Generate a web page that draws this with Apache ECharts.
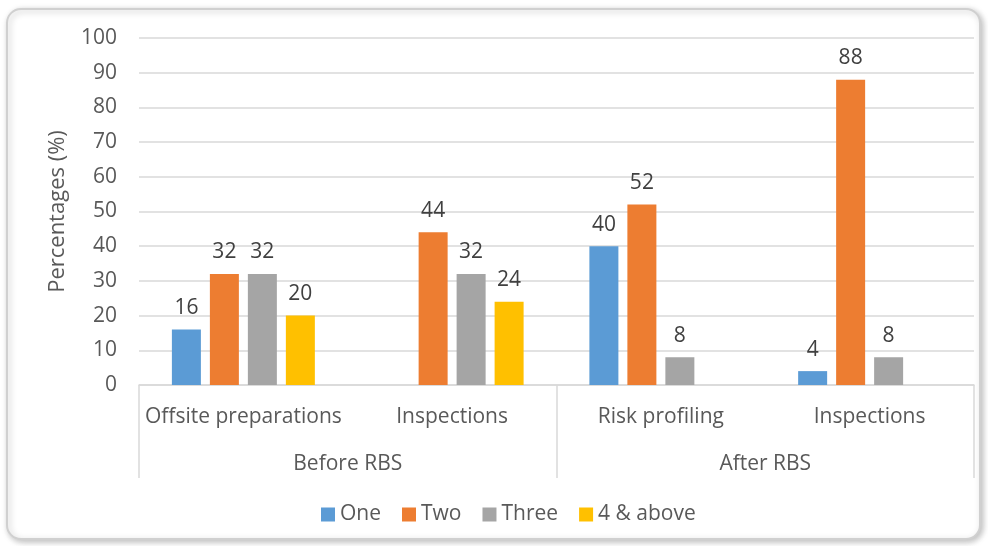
<!DOCTYPE html>
<html>
<head>
<meta charset="utf-8">
<script src="https://cdn.jsdelivr.net/npm/echarts@6/dist/echarts.min.js"></script>
<style>
  html, body { margin: 0; padding: 0; background: #ffffff; }
  #chart { width: 988px; height: 546px; }
</style>
</head>
<body>
<div id="chart"></div>
<script>
// Activities, grouped by period
const activities = ['Offsite preparations', 'Inspections', 'Risk profiling', 'Inspections'];
const periods = ['Before RBS', 'After RBS'];
const yTicks = { min: 0, max: 100, step: 10 };

// Share of respondents (%) by number of times
const seriesNames = ['One', 'Two', 'Three', '4 & above'];
const one = [16, null, 40, 4];
const two = [32, 44, 52, 88];
const three = [32, 32, 8, 8];
const fourAbove = [20, 24, null, null];

const colors = ['#5B9BD5', '#ED7D31', '#A5A5A5', '#FFC000'];
const textColor = '#595959';
const font = 'Open Sans';
const fs = 21;

const chart = echarts.init(document.getElementById('chart'));

const values = [one, two, three, fourAbove];
const series = seriesNames.map((name, i) => ({
  name: name,
  type: 'bar',
  xAxisIndex: 0,
  data: values[i],
  barWidth: 29,
  barGap: '31%',
  itemStyle: { color: colors[i] },
  label: {
    show: true,
    position: 'top',
    distance: 11,
    color: '#404040',
    fontFamily: font,
    fontSize: fs
  }
}));

chart.setOption({
  animation: false,
  textStyle: { fontFamily: font },
  graphic: [{
    type: 'rect',
    shape: { x: 7, y: 9, width: 973, height: 530, r: 14 },
    style: {
      fill: '#ffffff',
      stroke: '#d0d0d0',
      lineWidth: 2,
      shadowBlur: 6,
      shadowColor: 'rgba(0,0,0,0.25)',
      shadowOffsetX: 2,
      shadowOffsetY: 2
    },
    z: -10
  }],
  grid: { left: 139, right: 14, top: 38, bottom: 161, containLabel: false },
  legend: {
    data: seriesNames,
    left: 316,
    top: 499,
    itemWidth: 14,
    itemHeight: 14,
    itemGap: 21,
    icon: 'rect',
    textStyle: { color: textColor, fontSize: fs, fontFamily: font }
  },
  xAxis: [{
    type: 'category',
    data: activities,
    position: 'bottom',
    axisLine: { show: true, lineStyle: { color: '#d9d9d9', width: 1.5 } },
    axisTick: { show: false },
    axisLabel: { color: textColor, fontSize: fs, fontFamily: font, margin: 22, interval: 0 }
  }, {
    type: 'category',
    data: periods,
    position: 'bottom',
    axisLine: { show: false },
    axisTick: { show: true, length: 93, interval: 0, lineStyle: { color: '#d9d9d9', width: 1.5 } },
    axisLabel: { color: textColor, fontSize: fs, fontFamily: font, margin: 69, interval: 0 }
  }],
  yAxis: {
    type: 'value',
    min: yTicks.min,
    max: yTicks.max,
    interval: yTicks.step,
    name: 'Percentages (%)',
    nameLocation: 'middle',
    nameGap: 70,
    nameRotate: 90,
    nameTextStyle: { color: textColor, fontSize: 22, fontFamily: font },
    axisLine: { show: false },
    axisTick: { show: false },
    axisLabel: { color: textColor, fontSize: fs, fontFamily: font, margin: 22 },
    splitLine: { lineStyle: { color: '#d9d9d9', width: 1.5 } }
  },
  series: series
});
</script>
</body>
</html>
